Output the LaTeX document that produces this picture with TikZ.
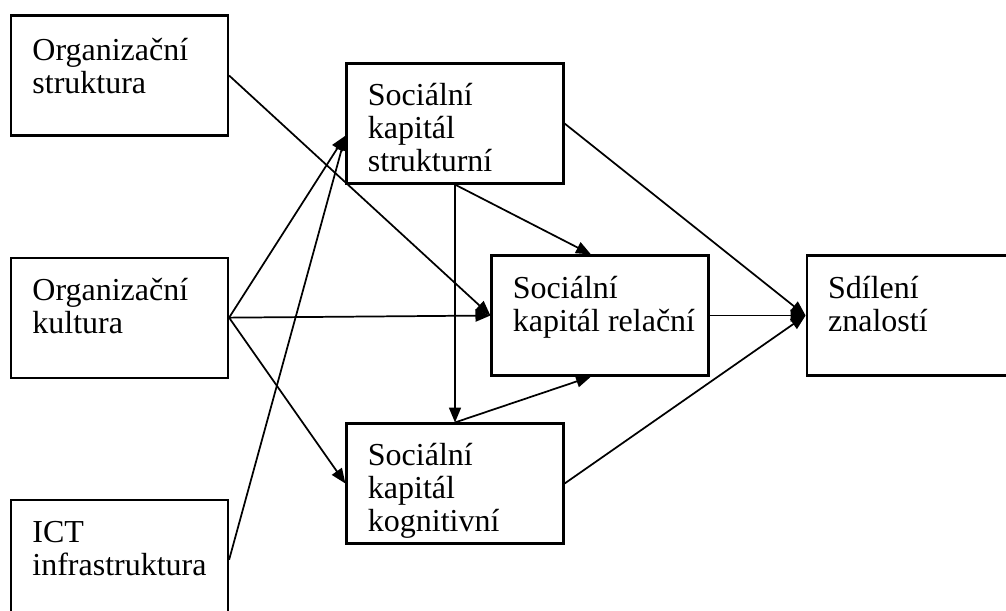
\documentclass[tikz,border=0pt]{standalone}
\usepackage{fontspec}
\setmainfont{Liberation Serif}
\usetikzlibrary{arrows.meta,positioning,calc}

\tikzset{
  box/.style={draw, line width=0.8pt, minimum width=81.4pt, minimum height=45pt, inner sep=0pt},
  txt/.style={anchor=base west, align=left, inner sep=0pt, font=\fontsize{12}{12.4}\selectfont},
  link/.style={-{Triangle[length=5.6pt,width=4.5pt]}, line width=0.65pt},
}

\begin{document}
\begin{tikzpicture}[x=0.375pt, y=-0.375pt]
    \useasboundingbox (0,0) rectangle (1006,610);
    \clip (0,0) rectangle (1006,610);
    % left column
    \node[box] (os) at (119.5,75.5) {};
    \node[box, below=45pt of os] (ok) {};
    \node[box, below=45pt of ok] (ict) {};
    % social capital
    \node[box] (sks) at (455,123.5) {};
    \node[box] (skr) at (600,315.5) {};
    \node[box] (skk) at (455,483.5) {};
    \node[box, right=36pt of skr] (sz) {};
    % texts (base = last line)
    \node[txt] (os-t) at ($(os.north west)+(22,79)$) {Organizační\\struktura};
    \node[txt] (ok-t) at ($(ok.north west)+(22,77)$) {Organizační\\kultura};
    \node[txt] (ict-t) at ($(ict.north west)+(22,77)$) {ICT\\infrastruktura};
    \node[txt] (sks-t) at ($(sks.north west)+(22,109)$) {Sociální\\kapitál\\strukturní};
    \node[txt] (skr-t) at ($(skr.north west)+(22,77)$) {Sociální\\kapitál relační};
    \node[txt] (skk-t) at ($(skk.north west)+(22,109)$) {Sociální\\kapitál\\kognitivní};
    \node[txt] (sz-t) at ($(sz.north west)+(22,77)$) {Sdílení\\znalostí};
    % connectors
    \coordinate (sks-in) at ($(sks.west)!0.2!(sks.south west)$);
    \draw[link] (os.east) -- (skr.west);
    \draw[link] (ok.east) -- (sks-in);
    \draw[link] (ict.east) -- (sks-in);
    \draw[link] (ok.east) -- (skr.west);
    \draw[link] (ok.east) -- (skk.west);
    \draw[link] (sks.south) -- (skk.north);
    \draw[link] (sks.south) -- ($(skr.north)+(-9,0)$);
    \draw[link] (skk.north) -- ($(skr.south)+(-9,0)$);
    \draw[link] (sks.east) -- (sz.west);
    \draw[link] (skr.east) -- (sz.west);
    \draw[link] (skk.east) -- (sz.west);
\end{tikzpicture}
\end{document}
